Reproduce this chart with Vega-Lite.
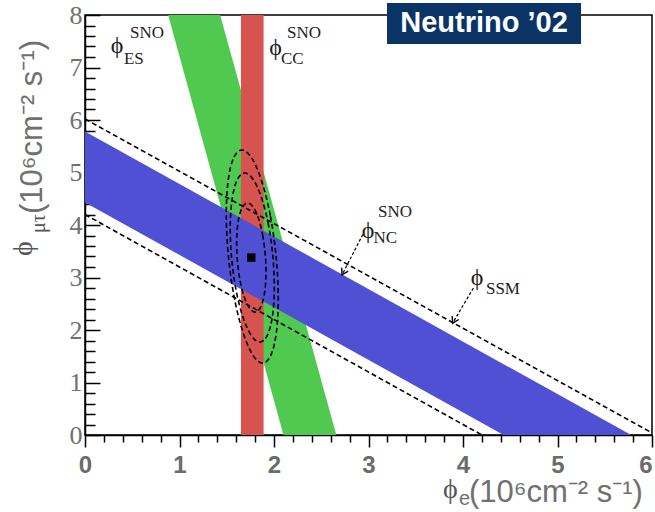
{
  "$schema": "https://vega.github.io/schema/vega-lite/v6.json",
  "width": 567,
  "height": 420,
  "autosize": {"type": "none"},
  "padding": {"left": 85, "top": 15, "right": 3, "bottom": 77},
  "background": "white",
  "config": {
    "view": {"stroke": "black", "strokeWidth": 1.5},
    "axis": {"grid": false}
  },
  "datasets": {
    "es": [
      {"y": 0, "xl": 2.10, "xr": 2.66},
      {"y": 8, "xl": 0.88, "xr": 1.43}
    ],
    "cc": [
      {"xl": 1.65, "xr": 1.89, "yl": 0, "yh": 8}
    ],
    "nc": [
      {"x": 0, "lo": 4.43, "hi": 5.78},
      {"x": 4.43, "lo": 0, "hi": 1.35},
      {"x": 5.78, "lo": 0, "hi": 0}
    ],
    "ssm": [
      {"line": "upper", "x": 0, "y": 6.02},
      {"line": "upper", "x": 6, "y": 0.04},
      {"line": "lower", "x": 0, "y": 4.2},
      {"line": "lower", "x": 4.2, "y": 0}
    ],
    "contours": [
      {"cl": "99", "i": 0, "x": 2.022, "y": 3.400},
      {"cl": "99", "i": 1, "x": 1.961, "y": 4.177},
      {"cl": "99", "i": 2, "x": 1.870, "y": 4.835},
      {"cl": "99", "i": 3, "x": 1.765, "y": 5.275},
      {"cl": "99", "i": 4, "x": 1.660, "y": 5.430},
      {"cl": "99", "i": 5, "x": 1.572, "y": 5.275},
      {"cl": "99", "i": 6, "x": 1.514, "y": 4.835},
      {"cl": "99", "i": 7, "x": 1.495, "y": 4.177},
      {"cl": "99", "i": 8, "x": 1.518, "y": 3.400},
      {"cl": "99", "i": 9, "x": 1.579, "y": 2.623},
      {"cl": "99", "i": 10, "x": 1.670, "y": 1.965},
      {"cl": "99", "i": 11, "x": 1.775, "y": 1.525},
      {"cl": "99", "i": 12, "x": 1.880, "y": 1.370},
      {"cl": "99", "i": 13, "x": 1.968, "y": 1.525},
      {"cl": "99", "i": 14, "x": 2.026, "y": 1.965},
      {"cl": "99", "i": 15, "x": 2.045, "y": 2.623},
      {"cl": "95", "i": 0, "x": 1.989, "y": 3.380},
      {"cl": "95", "i": 1, "x": 1.942, "y": 3.996},
      {"cl": "95", "i": 2, "x": 1.868, "y": 4.518},
      {"cl": "95", "i": 3, "x": 1.780, "y": 4.867},
      {"cl": "95", "i": 4, "x": 1.690, "y": 4.990},
      {"cl": "95", "i": 5, "x": 1.612, "y": 4.867},
      {"cl": "95", "i": 6, "x": 1.559, "y": 4.518},
      {"cl": "95", "i": 7, "x": 1.537, "y": 3.996},
      {"cl": "95", "i": 8, "x": 1.551, "y": 3.380},
      {"cl": "95", "i": 9, "x": 1.598, "y": 2.764},
      {"cl": "95", "i": 10, "x": 1.672, "y": 2.242},
      {"cl": "95", "i": 11, "x": 1.760, "y": 1.893},
      {"cl": "95", "i": 12, "x": 1.850, "y": 1.770},
      {"cl": "95", "i": 13, "x": 1.928, "y": 1.893},
      {"cl": "95", "i": 14, "x": 1.982, "y": 2.242},
      {"cl": "95", "i": 15, "x": 2.003, "y": 2.764},
      {"cl": "68", "i": 0, "x": 1.910, "y": 3.380},
      {"cl": "68", "i": 1, "x": 1.883, "y": 3.778},
      {"cl": "68", "i": 2, "x": 1.838, "y": 4.115},
      {"cl": "68", "i": 3, "x": 1.780, "y": 4.341},
      {"cl": "68", "i": 4, "x": 1.720, "y": 4.420},
      {"cl": "68", "i": 5, "x": 1.666, "y": 4.341},
      {"cl": "68", "i": 6, "x": 1.626, "y": 4.115},
      {"cl": "68", "i": 7, "x": 1.606, "y": 3.778},
      {"cl": "68", "i": 8, "x": 1.610, "y": 3.380},
      {"cl": "68", "i": 9, "x": 1.637, "y": 2.982},
      {"cl": "68", "i": 10, "x": 1.682, "y": 2.645},
      {"cl": "68", "i": 11, "x": 1.740, "y": 2.419},
      {"cl": "68", "i": 12, "x": 1.800, "y": 2.340},
      {"cl": "68", "i": 13, "x": 1.854, "y": 2.419},
      {"cl": "68", "i": 14, "x": 1.894, "y": 2.645},
      {"cl": "68", "i": 15, "x": 1.914, "y": 2.982}
    ],
    "best": [{"x": 1.76, "y": 3.38}],
    "arrows": [
      {"arrow": "NC", "i": 0, "x": 2.94, "y": 3.82},
      {"arrow": "NC", "i": 1, "x": 2.72, "y": 3.05},
      {"arrow": "SSM", "i": 0, "x": 4.11, "y": 2.80},
      {"arrow": "SSM", "i": 1, "x": 3.89, "y": 2.13}
    ],
    "labels": [
      {"part": "phi", "text": "ϕ", "x": 0.339, "y": 7.41},
      {"part": "script", "text": "SNO", "x": 0.476, "y": 7.65},
      {"part": "script", "text": "ES", "x": 0.412, "y": 7.17},
      {"part": "phi", "text": "ϕ", "x": 2.016, "y": 7.38},
      {"part": "script", "text": "SNO", "x": 2.138, "y": 7.65},
      {"part": "script", "text": "CC", "x": 2.073, "y": 7.17},
      {"part": "phi", "text": "ϕ", "x": 2.995, "y": 3.886},
      {"part": "script", "text": "SNO", "x": 3.10, "y": 4.257},
      {"part": "script", "text": "NC", "x": 3.052, "y": 3.743},
      {"part": "phi", "text": "ϕ", "x": 4.148, "y": 2.981},
      {"part": "script", "text": "SSM", "x": 4.243, "y": 2.79}
    ],
    "titles": [
      {"part": "yphi", "text": "ϕ", "x": -0.56, "y": 3.41},
      {"part": "ysub", "text": "μτ", "x": -0.423, "y": 3.85},
      {"part": "ymain", "text": "(10⁶cm⁻² s⁻¹)", "x": -0.455, "y": 4.21},
      {"part": "xphi", "text": "ϕ", "x": 3.788, "y": -1.2},
      {"part": "xsub", "text": "e", "x": 3.958, "y": -1.33},
      {"part": "xmain", "text": "(10⁶cm⁻² s⁻¹)", "x": 4.063, "y": -1.28}
    ],
    "banner": [
      {"x": 3.196, "x2": 5.249, "y": 8.229, "y2": 7.448, "cx": 4.222, "cy": 7.84, "text": "Neutrino ’02"}
    ]
  },
  "layer": [
    {
      "data": {"name": "es"},
      "mark": {"type": "area", "orient": "horizontal", "color": "#4fc94f"},
      "encoding": {
        "y": {
          "field": "y", "type": "quantitative",
          "scale": {"domain": [0, 8], "nice": false, "zero": false},
          "axis": {
            "orient": "left", "title": null, "tickCount": 100, "tickMinStep": 0.1,
            "values": [0, 0.2, 0.4, 0.6, 0.8, 1, 1.2, 1.4, 1.6, 1.8, 2, 2.2, 2.4, 2.6, 2.8, 3, 3.2, 3.4, 3.6, 3.8, 4, 4.2, 4.4, 4.6, 4.8, 5, 5.2, 5.4, 5.6, 5.8, 6, 6.2, 6.4, 6.6, 6.8, 7, 7.2, 7.4, 7.6, 7.8, 8],
            "labelExpr": "datum.value % 1 === 0 ? format(datum.value, 'd') : ''",
            "labelFont": "Liberation Serif", "labelFontSize": 26, "labelColor": "#707070",
            "tickSize": {"condition": {"test": "datum.value % 1 === 0", "value": -15}, "value": -10},
            "tickColor": "black", "tickWidth": 1.5,
            "domainColor": "black", "domainWidth": 1.5,
            "labelPadding": 18, "labelOverlap": false, "labelFlush": false
          }
        },
        "x": {
          "field": "xl", "type": "quantitative",
          "scale": {"domain": [0, 6], "nice": false, "zero": false},
          "axis": {
            "orient": "bottom", "title": null, "tickCount": 100, "tickMinStep": 0.1,
            "values": [0, 0.2, 0.4, 0.6, 0.8, 1, 1.2, 1.4, 1.6, 1.8, 2, 2.2, 2.4, 2.6, 2.8, 3, 3.2, 3.4, 3.6, 3.8, 4, 4.2, 4.4, 4.6, 4.8, 5, 5.2, 5.4, 5.6, 5.8, 6],
            "labelExpr": "datum.value % 1 === 0 ? format(datum.value, 'd') : ''",
            "labelFont": "Liberation Sans", "labelFontWeight": "bold", "labelFontSize": 24, "labelColor": "#6b6b6b",
            "labelAlign": {"condition": {"test": "datum.value === 6", "value": "right"}, "value": "center"},
            "tickSize": {"condition": {"test": "datum.value % 1 === 0", "value": 12}, "value": 7},
            "tickColor": "black", "tickWidth": 1.5,
            "domainColor": "black", "domainWidth": 1.5,
            "labelPadding": 6, "labelOverlap": false, "labelFlush": false
          }
        },
        "x2": {"field": "xr"}
      }
    },
    {
      "data": {"name": "cc"},
      "mark": {"type": "rect", "color": "#d65350"},
      "encoding": {
        "x": {"field": "xl", "type": "quantitative"},
        "x2": {"field": "xr"},
        "y": {"field": "yl", "type": "quantitative"},
        "y2": {"field": "yh"}
      }
    },
    {
      "data": {"name": "nc"},
      "mark": {"type": "area", "orient": "vertical", "color": "#5050d5"},
      "encoding": {
        "x": {"field": "x", "type": "quantitative"},
        "y": {"field": "lo", "type": "quantitative"},
        "y2": {"field": "hi"}
      }
    },
    {
      "data": {"name": "ssm"},
      "mark": {"type": "line", "color": "black", "strokeWidth": 1.6, "strokeDash": [5, 3]},
      "encoding": {
        "x": {"field": "x", "type": "quantitative"},
        "y": {"field": "y", "type": "quantitative"},
        "detail": {"field": "line"}
      }
    },
    {
      "data": {"name": "contours"},
      "mark": {"type": "line", "color": "black", "strokeWidth": 1.6, "strokeDash": [5, 3], "interpolate": "cardinal-closed"},
      "encoding": {
        "x": {"field": "x", "type": "quantitative"},
        "y": {"field": "y", "type": "quantitative"},
        "detail": {"field": "cl"},
        "order": {"field": "i", "type": "quantitative"}
      }
    },
    {
      "data": {"name": "best"},
      "mark": {"type": "point", "shape": "square", "filled": true, "color": "black", "size": 70, "opacity": 1},
      "encoding": {
        "x": {"field": "x", "type": "quantitative"},
        "y": {"field": "y", "type": "quantitative"}
      }
    },
    {
      "data": {"name": "arrows"},
      "mark": {"type": "line", "color": "black", "strokeWidth": 1.2, "strokeDash": [3, 2]},
      "encoding": {
        "x": {"field": "x", "type": "quantitative"},
        "y": {"field": "y", "type": "quantitative"},
        "detail": {"field": "arrow"},
        "order": {"field": "i", "type": "quantitative"}
      }
    },
    {
      "data": {"name": "arrows"},
      "transform": [{"filter": "datum.i == 1"}],
      "mark": {"type": "point", "shape": "M-0.6,-1L0,0L0.6,-1", "filled": false, "color": "black", "strokeWidth": 1.4, "size": 150, "angle": 28, "opacity": 1},
      "encoding": {
        "x": {"field": "x", "type": "quantitative"},
        "y": {"field": "y", "type": "quantitative"}
      }
    },
    {
      "data": {"name": "labels"},
      "transform": [{"filter": "datum.part == 'phi'"}],
      "mark": {"type": "text", "font": "Liberation Serif", "fontSize": 24, "color": "#222", "align": "center", "baseline": "middle"},
      "encoding": {
        "x": {"field": "x", "type": "quantitative"},
        "y": {"field": "y", "type": "quantitative"},
        "text": {"field": "text"}
      }
    },
    {
      "data": {"name": "labels"},
      "transform": [{"filter": "datum.part == 'script'"}],
      "mark": {"type": "text", "font": "Liberation Serif", "fontSize": 17, "color": "#222", "align": "left", "baseline": "middle"},
      "encoding": {
        "x": {"field": "x", "type": "quantitative"},
        "y": {"field": "y", "type": "quantitative"},
        "text": {"field": "text"}
      }
    },
    {
      "data": {"name": "titles"},
      "transform": [{"filter": "datum.part == 'yphi'"}],
      "mark": {"type": "text", "font": "Liberation Serif", "fontSize": 28, "color": "#555", "align": "left", "baseline": "alphabetic", "angle": 270},
      "encoding": {
        "x": {"field": "x", "type": "quantitative"},
        "y": {"field": "y", "type": "quantitative"},
        "text": {"field": "text"}
      }
    },
    {
      "data": {"name": "titles"},
      "transform": [{"filter": "datum.part == 'ysub'"}],
      "mark": {"type": "text", "font": "Liberation Serif", "fontSize": 20, "color": "#555", "align": "left", "baseline": "alphabetic", "angle": 270},
      "encoding": {
        "x": {"field": "x", "type": "quantitative"},
        "y": {"field": "y", "type": "quantitative"},
        "text": {"field": "text"}
      }
    },
    {
      "data": {"name": "titles"},
      "transform": [{"filter": "datum.part == 'ymain'"}],
      "mark": {"type": "text", "font": "Liberation Sans", "fontSize": 31, "color": "#707070", "align": "left", "baseline": "alphabetic", "angle": 270},
      "encoding": {
        "x": {"field": "x", "type": "quantitative"},
        "y": {"field": "y", "type": "quantitative"},
        "text": {"field": "text"}
      }
    },
    {
      "data": {"name": "titles"},
      "transform": [{"filter": "datum.part == 'xphi'"}],
      "mark": {"type": "text", "font": "Liberation Serif", "fontSize": 28, "color": "#555", "align": "left", "baseline": "alphabetic"},
      "encoding": {
        "x": {"field": "x", "type": "quantitative"},
        "y": {"field": "y", "type": "quantitative"},
        "text": {"field": "text"}
      }
    },
    {
      "data": {"name": "titles"},
      "transform": [{"filter": "datum.part == 'xsub'"}],
      "mark": {"type": "text", "font": "Liberation Sans", "fontSize": 20, "color": "#707070", "align": "left", "baseline": "alphabetic"},
      "encoding": {
        "x": {"field": "x", "type": "quantitative"},
        "y": {"field": "y", "type": "quantitative"},
        "text": {"field": "text"}
      }
    },
    {
      "data": {"name": "titles"},
      "transform": [{"filter": "datum.part == 'xmain'"}],
      "mark": {"type": "text", "font": "Liberation Sans", "fontSize": 31, "color": "#707070", "align": "left", "baseline": "alphabetic"},
      "encoding": {
        "x": {"field": "x", "type": "quantitative"},
        "y": {"field": "y", "type": "quantitative"},
        "text": {"field": "text"}
      }
    },
    {
      "data": {"name": "banner"},
      "mark": {"type": "rect", "color": "#0a3466"},
      "encoding": {
        "x": {"field": "x", "type": "quantitative"},
        "x2": {"field": "x2"},
        "y": {"field": "y", "type": "quantitative"},
        "y2": {"field": "y2"}
      }
    },
    {
      "data": {"name": "banner"},
      "mark": {"type": "text", "font": "Liberation Sans", "fontWeight": "bold", "fontSize": 29, "color": "white", "align": "center", "baseline": "middle"},
      "encoding": {
        "x": {"field": "cx", "type": "quantitative"},
        "y": {"field": "cy", "type": "quantitative"},
        "text": {"field": "text"}
      }
    }
  ]
}
